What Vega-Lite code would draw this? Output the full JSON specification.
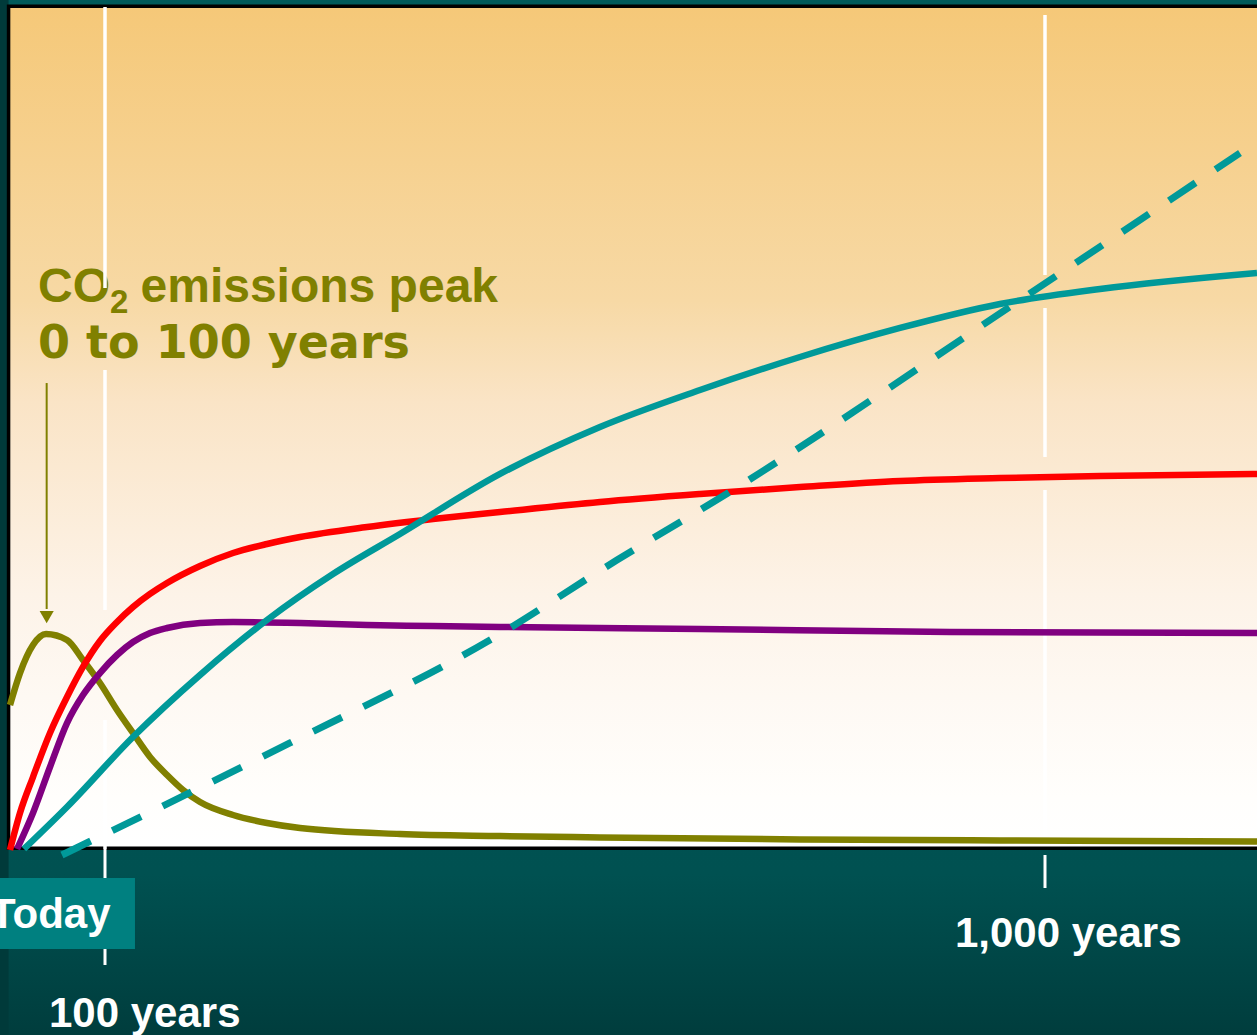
{
  "$schema": "https://vega.github.io/schema/vega-lite/v6.json",
  "width": 1247,
  "height": 842,
  "padding": {"left": 10, "top": 7, "right": 0, "bottom": 186},
  "autosize": {"type": "none"},
  "background": "#004848",
  "config": {"view": {"stroke": null}, "axis": {"disable": true}},
  "datasets": {
    "curves": [
      {"s": "CO2 emissions", "t": 0, "v": 17.10},
      {"s": "CO2 emissions", "t": 10.5, "v": 20.90},
      {"s": "CO2 emissions", "t": 24.2, "v": 24.23},
      {"s": "CO2 emissions", "t": 37.9, "v": 25.53},
      {"s": "CO2 emissions", "t": 60.0, "v": 24.82},
      {"s": "CO2 emissions", "t": 76.8, "v": 22.45},
      {"s": "CO2 emissions", "t": 94.7, "v": 19.71},
      {"s": "CO2 emissions", "t": 111.5, "v": 16.51},
      {"s": "CO2 emissions", "t": 126.8, "v": 13.78},
      {"s": "CO2 emissions", "t": 143.1, "v": 10.93},
      {"s": "CO2 emissions", "t": 159.4, "v": 8.79},
      {"s": "CO2 emissions", "t": 174.7, "v": 7.01},
      {"s": "CO2 emissions", "t": 191.0, "v": 5.58},
      {"s": "CO2 emissions", "t": 222.6, "v": 4.04},
      {"s": "CO2 emissions", "t": 255.1, "v": 3.09},
      {"s": "CO2 emissions", "t": 286.7, "v": 2.49},
      {"s": "CO2 emissions", "t": 382.4, "v": 1.78},
      {"s": "CO2 emissions", "t": 478.2, "v": 1.54},
      {"s": "CO2 emissions", "t": 573.9, "v": 1.37},
      {"s": "CO2 emissions", "t": 765.4, "v": 1.13},
      {"s": "CO2 emissions", "t": 956.9, "v": 1.01},
      {"s": "CO2 emissions", "t": 1203, "v": 0.89},

      {"s": "CO2 concentration", "t": 0, "v": -0.12},
      {"s": "CO2 concentration", "t": 10.5, "v": 4.28},
      {"s": "CO2 concentration", "t": 24.2, "v": 8.55},
      {"s": "CO2 concentration", "t": 42.1, "v": 13.78},
      {"s": "CO2 concentration", "t": 60.0, "v": 18.05},
      {"s": "CO2 concentration", "t": 76.8, "v": 21.62},
      {"s": "CO2 concentration", "t": 94.7, "v": 24.70},
      {"s": "CO2 concentration", "t": 111.5, "v": 26.96},
      {"s": "CO2 concentration", "t": 126.8, "v": 28.74},
      {"s": "CO2 concentration", "t": 143.1, "v": 30.29},
      {"s": "CO2 concentration", "t": 159.4, "v": 31.59},
      {"s": "CO2 concentration", "t": 191.0, "v": 33.61},
      {"s": "CO2 concentration", "t": 222.6, "v": 35.15},
      {"s": "CO2 concentration", "t": 255.1, "v": 36.22},
      {"s": "CO2 concentration", "t": 286.7, "v": 37.05},
      {"s": "CO2 concentration", "t": 350.9, "v": 38.24},
      {"s": "CO2 concentration", "t": 414.0, "v": 39.19},
      {"s": "CO2 concentration", "t": 478.2, "v": 40.02},
      {"s": "CO2 concentration", "t": 573.9, "v": 41.21},
      {"s": "CO2 concentration", "t": 669.7, "v": 42.16},
      {"s": "CO2 concentration", "t": 765.4, "v": 42.99},
      {"s": "CO2 concentration", "t": 861.2, "v": 43.71},
      {"s": "CO2 concentration", "t": 956.9, "v": 44.06},
      {"s": "CO2 concentration", "t": 1052.7, "v": 44.30},
      {"s": "CO2 concentration", "t": 1203, "v": 44.54},

      {"s": "Temperature", "t": 7.4, "v": 0},
      {"s": "Temperature", "t": 24.2, "v": 4.28},
      {"s": "Temperature", "t": 42.1, "v": 9.74},
      {"s": "Temperature", "t": 60.0, "v": 14.96},
      {"s": "Temperature", "t": 76.8, "v": 18.29},
      {"s": "Temperature", "t": 94.7, "v": 20.90},
      {"s": "Temperature", "t": 111.5, "v": 23.04},
      {"s": "Temperature", "t": 126.8, "v": 24.58},
      {"s": "Temperature", "t": 143.1, "v": 25.65},
      {"s": "Temperature", "t": 159.4, "v": 26.25},
      {"s": "Temperature", "t": 191.0, "v": 26.84},
      {"s": "Temperature", "t": 222.6, "v": 26.96},
      {"s": "Temperature", "t": 286.7, "v": 26.84},
      {"s": "Temperature", "t": 350.9, "v": 26.60},
      {"s": "Temperature", "t": 414.0, "v": 26.48},
      {"s": "Temperature", "t": 478.2, "v": 26.37},
      {"s": "Temperature", "t": 669.7, "v": 26.13},
      {"s": "Temperature", "t": 909.0, "v": 25.77},
      {"s": "Temperature", "t": 1203, "v": 25.65},

      {"s": "Thermal expansion", "t": 14.7, "v": 0},
      {"s": "Thermal expansion", "t": 60.0, "v": 4.99},
      {"s": "Thermal expansion", "t": 126.8, "v": 13.30},
      {"s": "Thermal expansion", "t": 191.0, "v": 20.67},
      {"s": "Thermal expansion", "t": 255.1, "v": 27.20},
      {"s": "Thermal expansion", "t": 318.3, "v": 32.66},
      {"s": "Thermal expansion", "t": 382.4, "v": 37.41},
      {"s": "Thermal expansion", "t": 478.2, "v": 44.54},
      {"s": "Thermal expansion", "t": 573.9, "v": 50.12},
      {"s": "Thermal expansion", "t": 669.7, "v": 54.51},
      {"s": "Thermal expansion", "t": 765.4, "v": 58.43},
      {"s": "Thermal expansion", "t": 861.2, "v": 61.88},
      {"s": "Thermal expansion", "t": 956.9, "v": 64.73},
      {"s": "Thermal expansion", "t": 1052.7, "v": 66.51},
      {"s": "Thermal expansion", "t": 1203, "v": 68.41},

      {"s": "Ice melting", "t": 54.7, "v": -0.71},
      {"s": "Ice melting", "t": 277.1, "v": 12.59},
      {"s": "Ice melting", "t": 468.6, "v": 24.82},
      {"s": "Ice melting", "t": 590.2, "v": 34.32},
      {"s": "Ice melting", "t": 696.5, "v": 42.28},
      {"s": "Ice melting", "t": 976.1, "v": 65.20},
      {"s": "Ice melting", "t": 1186.7, "v": 82.66}
    ],
    "markers": [
      {"year": 100, "zone": "plot", "lo": 66.63, "hi": 100},
      {"year": 100, "zone": "plot", "lo": 28.38, "hi": 56.89},
      {"year": 100, "zone": "plot", "lo": 0, "hi": 15.32},
      {"year": 100, "zone": "below", "lo": -13.78, "hi": 0},
      {"year": 1000, "zone": "plot", "lo": 68.17, "hi": 99.05},
      {"year": 1000, "zone": "plot", "lo": 46.56, "hi": 64.25},
      {"year": 1000, "zone": "plot", "lo": 0.48, "hi": 42.64},
      {"year": 1000, "zone": "below", "lo": -4.63, "hi": -0.71}
    ]
  },
  "layer": [
    {
      "data": {"values": [{}]},
      "mark": {
        "type": "rect",
        "clip": false,
        "fill": {
          "gradient": "linear", "x1": 0, "y1": 0, "x2": 0, "y2": 1,
          "stops": [
            {"offset": 0, "color": "#005a5a"},
            {"offset": 0.84, "color": "#005151"},
            {"offset": 1, "color": "#003c3c"}
          ]
        }
      },
      "encoding": {
        "x": {"datum": -12, "type": "quantitative", "axis": null,
              "scale": {"domain": [0, 100, 1000, 1203], "range": [0, 95, 1035, 1247], "nice": false, "zero": false}},
        "x2": {"datum": 1215},
        "y": {"datum": -23, "type": "quantitative", "axis": null,
              "scale": {"domain": [0, 100], "nice": false, "zero": false}},
        "y2": {"datum": 102}
      }
    },
    {
      "data": {"values": [{}]},
      "mark": {"type": "rect", "clip": false, "fill": "#003a3a"},
      "encoding": {
        "x": {"datum": -12, "type": "quantitative"},
        "x2": {"datum": -1.5},
        "y": {"datum": -23, "type": "quantitative"},
        "y2": {"datum": 102}
      }
    },
    {
      "data": {"values": [{}]},
      "mark": {
        "type": "rect",
        "clip": false,
        "stroke": "#000000",
        "strokeWidth": 3.5,
        "fill": {
          "gradient": "linear", "x1": 0, "y1": 0, "x2": 0, "y2": 1,
          "stops": [
            {"offset": 0, "color": "#f5c878"},
            {"offset": 0.35, "color": "#f7d9a5"},
            {"offset": 0.47, "color": "#fae4c6"},
            {"offset": 0.7, "color": "#fdf3e8"},
            {"offset": 0.82, "color": "#fef9f3"},
            {"offset": 0.94, "color": "#fffefc"},
            {"offset": 1, "color": "#ffffff"}
          ]
        }
      },
      "encoding": {
        "x": {"datum": -1.5, "type": "quantitative"},
        "x2": {"datum": 1215},
        "y": {"datum": 0.1, "type": "quantitative"},
        "y2": {"datum": 100.1}
      }
    },
    {
      "data": {"values": [{}]},
      "mark": {"type": "text", "text": "CO", "font": "Liberation Sans", "fontWeight": "bold", "fontSize": 48,
               "fill": "#808000", "align": "left", "baseline": "alphabetic"},
      "encoding": {"x": {"datum": 29.5, "type": "quantitative"}, "y": {"datum": 64.96, "type": "quantitative"}}
    },
    {
      "data": {"values": [{}]},
      "mark": {"type": "text", "text": "2", "font": "Liberation Sans", "fontWeight": "bold", "fontSize": 33,
               "fill": "#808000", "align": "left", "baseline": "alphabetic"},
      "encoding": {"x": {"datum": 104.8, "type": "quantitative"}, "y": {"datum": 63.66, "type": "quantitative"}}
    },
    {
      "data": {"values": [{}]},
      "mark": {"type": "text", "text": "emissions peak", "font": "Liberation Sans", "fontWeight": "bold", "fontSize": 48,
               "fill": "#808000", "align": "left", "baseline": "alphabetic"},
      "encoding": {"x": {"datum": 134, "type": "quantitative"}, "y": {"datum": 64.96, "type": "quantitative"}}
    },
    {
      "data": {"values": [{}]},
      "mark": {"type": "text", "text": "0 to 100 years", "font": "DejaVu Sans", "fontWeight": "bold", "fontSize": 46,
               "fill": "#808000", "align": "left", "baseline": "alphabetic"},
      "encoding": {"x": {"datum": 29.5, "type": "quantitative"}, "y": {"datum": 58.31, "type": "quantitative"}}
    },
    {
      "data": {"name": "markers"},
      "transform": [{"filter": "datum.zone === 'plot'"}],
      "mark": {"type": "rule", "stroke": "#ffffff", "strokeWidth": 3.5, "clip": false},
      "encoding": {
        "x": {"field": "year", "type": "quantitative"},
        "y": {"field": "lo", "type": "quantitative"},
        "y2": {"field": "hi"}
      }
    },
    {
      "data": {"name": "markers"},
      "transform": [{"filter": "datum.zone === 'below'"}],
      "mark": {"type": "rule", "stroke": "#ffffff", "strokeWidth": 3, "clip": false},
      "encoding": {
        "x": {"field": "year", "type": "quantitative"},
        "y": {"field": "lo", "type": "quantitative"},
        "y2": {"field": "hi"}
      }
    },
    {
      "data": {"values": [{}]},
      "mark": {"type": "rect", "fill": "#008080", "clip": false},
      "encoding": {
        "x": {"datum": -12, "type": "quantitative"},
        "x2": {"datum": 128.7},
        "y": {"datum": -11.88, "type": "quantitative"},
        "y2": {"datum": -3.44}
      }
    },
    {
      "data": {"values": [{}]},
      "mark": {"type": "text", "text": "Today", "font": "Liberation Sans", "fontWeight": "bold", "fontSize": 42,
               "fill": "#ffffff", "align": "right", "baseline": "alphabetic", "clip": false},
      "encoding": {"x": {"datum": 105.3, "type": "quantitative"}, "y": {"datum": -9.38, "type": "quantitative"}}
    },
    {
      "data": {"values": [{}]},
      "mark": {"type": "text", "text": "100 years", "font": "Liberation Sans", "fontWeight": "bold", "fontSize": 42,
               "fill": "#ffffff", "align": "left", "baseline": "alphabetic", "clip": false},
      "encoding": {"x": {"datum": 41.05, "type": "quantitative"}, "y": {"datum": -21.14, "type": "quantitative"}}
    },
    {
      "data": {"values": [{}]},
      "mark": {"type": "text", "text": "1,000 years", "font": "Liberation Sans", "fontWeight": "bold", "fontSize": 42,
               "fill": "#ffffff", "align": "left", "baseline": "alphabetic", "clip": false},
      "encoding": {"x": {"datum": 913.8, "type": "quantitative"}, "y": {"datum": -11.67, "type": "quantitative"}}
    },
    {
      "data": {"values": [{}]},
      "mark": {"type": "rule", "stroke": "#808000", "strokeWidth": 2},
      "encoding": {
        "x": {"datum": 38.6, "type": "quantitative"},
        "y": {"datum": 55.34, "type": "quantitative"},
        "y2": {"datum": 28.5}
      }
    },
    {
      "data": {"values": [{}]},
      "mark": {"type": "point", "shape": "triangle-down", "filled": true, "fill": "#808000", "opacity": 1, "size": 200},
      "encoding": {"x": {"datum": 38.6, "type": "quantitative"}, "y": {"datum": 27.55, "type": "quantitative"}}
    },
    {
      "data": {"name": "curves"},
      "transform": [{"filter": "datum.s === 'CO2 emissions'"}],
      "mark": {"type": "line", "interpolate": "monotone", "stroke": "#808000", "strokeWidth": 6.5, "clip": false},
      "encoding": {"x": {"field": "t", "type": "quantitative"}, "y": {"field": "v", "type": "quantitative"}}
    },
    {
      "data": {"name": "curves"},
      "transform": [{"filter": "datum.s === 'CO2 concentration'"}],
      "mark": {"type": "line", "interpolate": "monotone", "stroke": "#ff0000", "strokeWidth": 6.5, "clip": false},
      "encoding": {"x": {"field": "t", "type": "quantitative"}, "y": {"field": "v", "type": "quantitative"}}
    },
    {
      "data": {"name": "curves"},
      "transform": [{"filter": "datum.s === 'Temperature'"}],
      "mark": {"type": "line", "interpolate": "monotone", "stroke": "#800080", "strokeWidth": 6.5, "clip": false},
      "encoding": {"x": {"field": "t", "type": "quantitative"}, "y": {"field": "v", "type": "quantitative"}}
    },
    {
      "data": {"name": "curves"},
      "transform": [{"filter": "datum.s === 'Thermal expansion'"}],
      "mark": {"type": "line", "interpolate": "monotone", "stroke": "#009999", "strokeWidth": 6.5, "clip": false},
      "encoding": {"x": {"field": "t", "type": "quantitative"}, "y": {"field": "v", "type": "quantitative"}}
    },
    {
      "data": {"name": "curves"},
      "transform": [{"filter": "datum.s === 'Ice melting'"}],
      "mark": {"type": "line", "interpolate": "monotone", "stroke": "#009999", "strokeWidth": 7,
               "strokeDash": [32, 24], "clip": false},
      "encoding": {"x": {"field": "t", "type": "quantitative"}, "y": {"field": "v", "type": "quantitative"}}
    }
  ]
}
